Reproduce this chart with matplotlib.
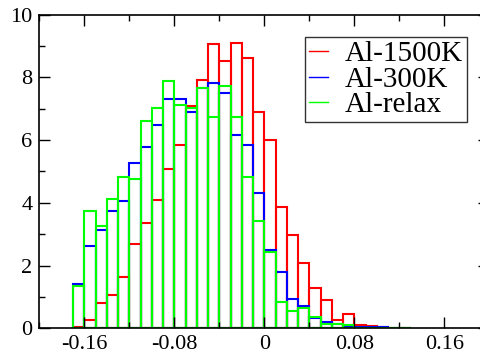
import numpy as np
import matplotlib
matplotlib.use("Agg")
import matplotlib.pyplot as plt
from matplotlib.ticker import MultipleLocator

plt.rcParams['font.family'] = ['Liberation Serif', 'DejaVu Serif']

# left edges of the 0.01-wide bins
bin_left = [-0.17, -0.16, -0.15, -0.14, -0.13, -0.12, -0.11, -0.10, -0.09, -0.08,
            -0.07, -0.06, -0.05, -0.04, -0.03, -0.02, -0.01, 0.00, 0.01, 0.02,
            0.03, 0.04, 0.05, 0.06, 0.07, 0.08, 0.09, 0.10, 0.11, 0.12]
bin_width = 0.01

al_1500k = [0.03, 0.26, 0.80, 1.06, 1.65, 2.69, 3.37, 4.09, 5.08, 5.85,
            7.08, 7.92, 9.06, 8.52, 9.09, 8.63, 6.90, 5.99, 3.88, 2.98,
            2.07, 1.27, 0.89, 0.27, 0.47, 0.10, 0.07, 0.05, 0.02, 0.0]
al_300k = [1.42, 2.62, 3.13, 3.74, 4.07, 5.28, 5.79, 6.48, 7.30, 7.30,
           6.89, 7.66, 7.83, 7.50, 6.15, 5.85, 4.32, 2.49, 1.80, 0.93,
           0.71, 0.32, 0.19, 0.14, 0.08, 0.05, 0.03, 0.03, 0.02, 0.02]
al_relax = [1.35, 3.75, 3.26, 4.11, 4.82, 4.76, 6.61, 7.03, 7.90, 7.11,
            7.02, 7.65, 6.75, 7.74, 6.75, 4.83, 3.41, 2.42, 0.85, 0.56,
            0.64, 0.36, 0.15, 0.14, 0.12, 0.02, 0.01, 0.0, 0.0, 0.0]

series = [("Al-1500K", al_1500k, "#ff0000"),
          ("Al-300K", al_300k, "#0000ff"),
          ("Al-relax", al_relax, "#00ff00")]

fig = plt.figure(figsize=(4.8, 3.56), dpi=100)
ax = fig.add_axes([39.3 / 480, 1 - 328.3 / 356, 450 / 480, 313.6 / 356])

for name, vals, col in series:
    ax.bar(bin_left, vals, width=bin_width, align='edge', fill=False,
           edgecolor=col, linewidth=1.5)
    ax.plot([], [], color=col, linewidth=1.0, label=name)

ax.set_xlim(-0.2, 0.2)
ax.set_ylim(0, 10)
ax.xaxis.set_minor_locator(MultipleLocator(0.04))
ax.yaxis.set_major_locator(MultipleLocator(2))
ax.yaxis.set_minor_locator(MultipleLocator(1))
ax.set_xticks([-0.16, -0.08, 0, 0.08, 0.16])
ax.set_xticklabels(["-0.16", "-0.08", "0", "0.08", "0.16"])
ax.tick_params(which='both', direction='in', top=True, right=True,
               labelsize=16, width=1)
ax.tick_params(which='major', length=8, pad=5)
ax.tick_params(which='minor', length=4)
for s in ax.spines.values():
    s.set_linewidth(1.2)

leg = ax.legend(loc='upper right', bbox_to_anchor=(466.7 / 480, 1 - 37.3 / 356),
                bbox_transform=fig.transFigure, fontsize=21, frameon=True,
                fancybox=False, handlelength=0.65, handletextpad=0.6,
                labelspacing=-0.03, borderpad=0.12, borderaxespad=0)
leg.get_frame().set_edgecolor('black')
leg.get_frame().set_linewidth(1.0)

fig.savefig("out.png", dpi=100)
